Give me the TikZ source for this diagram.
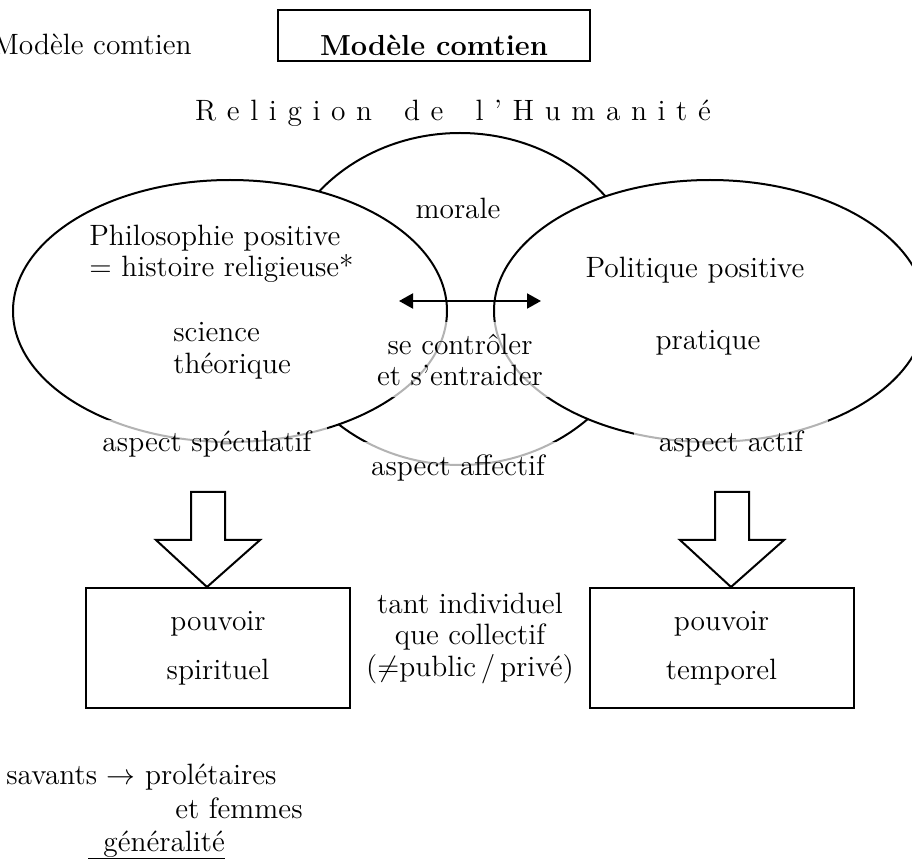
\documentclass[tikz,border=0pt]{standalone}
\usepackage{fontspec}
\usepackage{amsmath}
\usetikzlibrary{math}
\usetikzlibrary{arrows.meta}

\tikzset{
  txt/.style={font=\fontsize{14.7}{15.75}\selectfont, inner sep=0pt, align=center},
  tag/.style={txt, fill=white, fill opacity=0.7, text opacity=1},
  bubble/.style={draw, line width=1pt, fill=white},
  powerbox/.style={txt, draw, line width=1pt, minimum width=132pt, minimum height=60pt},
  bigarrow/.style={draw, line width=1pt, fill=white, line join=miter},
  titlebox/.style={draw, line width=1pt, minimum width=156pt, inner xsep=0pt, inner ysep=2.5pt,
    text height=20.5pt, text depth=0pt, font=\fontsize{14.5}{18}\selectfont\bfseries},
}

\begin{document}
\begin{tikzpicture}[x=0.5pt, y=-0.5pt]

\useasboundingbox (0,0) rectangle (912,861);
\clip (0,0) rectangle (912,861);

% titre
\node[txt, anchor=east] (plain) at (192,44) {Modèle comtien};
\node[titlebox, anchor=south] (title) at (434,62) {Modèle comtien};

\node[txt] (religion) at (453,113) {\spaceskip=5.3pt R e l i g i o n\hspace{16pt}d e\hspace{16pt}l ’ H u m a n i t é};

% les trois cercles
\draw[bubble] (460,299) ellipse [x radius=185, y radius=166];
\draw[bubble] (230,311) ellipse [x radius=217, y radius=131];
\draw[bubble] (710,311) ellipse [x radius=216, y radius=131];

\node[txt] (morale) at (458,208) {morale};
\node[txt, align=left, anchor=west] (philo) at (89,254) {Philosophie positive\\= histoire religieuse*};
\node[txt, align=left, anchor=west] (science) at (173,351) {science\\théorique};
\node[txt] (politique) at (695,270) {Politique positive};
\node[txt] (pratique) at (708,343) {pratique};

\tikzmath{ \ya = 301; }
\coordinate (gauche) at (399,\ya);
\coordinate (droite) at (541,\ya);
\draw[{Triangle[length=7pt,width=7.5pt]}-{Triangle[length=7pt,width=7.5pt]}, line width=1pt] (gauche) -- (droite);

\node[tag, minimum width=120pt, minimum height=37.5pt] (controle) at (460,360) {se contrôler\\et s’entraider};

% aspects
\node[tag, minimum width=120pt, minimum height=24pt] (spec) at (207,444) {aspect spéculatif};
\node[tag, minimum width=108pt, minimum height=26pt] (affectif) at (458,468) {aspect affectif};
\node[tag, minimum width=97pt, minimum height=24pt] (actif) at (731,444) {aspect actif};

% pouvoirs
\node[powerbox] (pspirit) at (218,648) {pouvoir\\[8.75pt]spirituel};
\node[powerbox] (ptemp) at (721.5,648) {pouvoir\\[8.75pt]temporel};

\draw[bigarrow] (spec |- pspirit.north) -- ++(-51,-47) -- ++(35,0) -- ++(0,-48) -- ++(34,0) -- ++(0,48) -- ++(35,0) -- cycle;
\draw[bigarrow] (actif |- ptemp.north) -- ++(-51,-47) -- ++(35,0) -- ++(0,-48) -- ++(34,0) -- ++(0,48) -- ++(35,0) -- cycle;

\node[txt] (portee) at (470,638) {tant individuel\\que collectif\\(\(\neq\)public\,/\,privé)};

% en bas
\node[txt, anchor=west] (savants) at (6,777) {savants \(\rightarrow\) prolétaires};
\node[txt, anchor=east] (femmes) at (303,808) {et femmes};
\node[txt, anchor=west] (generalite) at (88,844) {\hspace*{7.5pt}généralité};
\draw[line width=0.7pt] ([yshift=-3.5pt]generalite.base west) -- ([yshift=-3.5pt]generalite.base east);

\end{tikzpicture}
\end{document}
